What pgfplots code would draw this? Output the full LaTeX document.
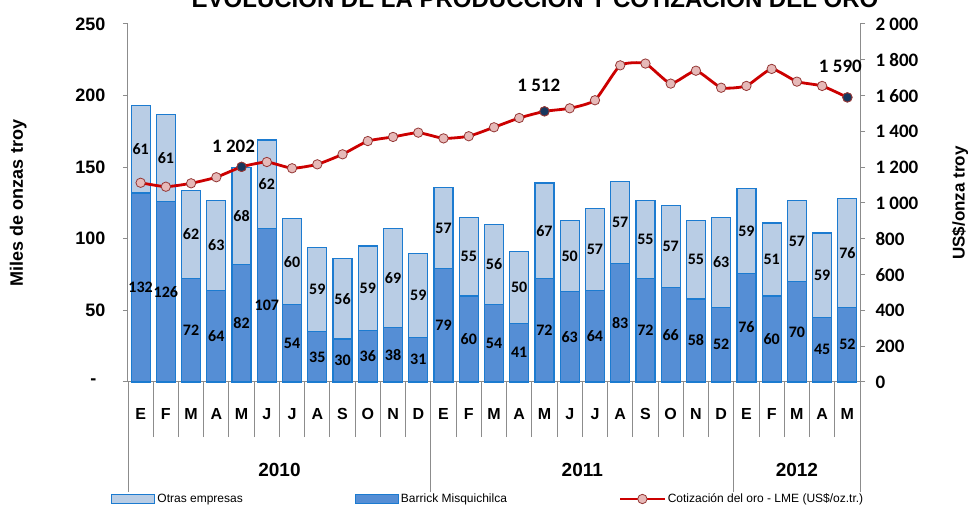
\documentclass[border=0pt]{standalone}
\usepackage{fontspec}
\setmainfont{Liberation Sans}
\newfontfamily\calib{Carlito}
\usepackage{pgfplots}
\usepackage{pgfplotstable}
\pgfplotsset{compat=1.18}
\definecolor{otras}{HTML}{B9CDE5}
\definecolor{barrick}{HTML}{558ED5}
\definecolor{barborder}{HTML}{1C7BD0}
\definecolor{axgray}{HTML}{8C8C8C}
\definecolor{goldred}{HTML}{CC0000}
\definecolor{mkfill}{HTML}{E6B9B8}
\definecolor{mkdraw}{HTML}{953735}
\definecolor{navy}{HTML}{17375E}

\pgfplotstableread{
x b o p
0 132 61 1113
1 126 61 1091
2 72 62 1110
3 64 63 1144
4 82 68 1202
5 107 62 1229
6 54 60 1194
7 35 59 1216
8 30 56 1272
9 36 59 1346
10 38 69 1369
11 31 59 1393
12 79 57 1361
13 60 55 1373
14 54 56 1423
15 41 50 1475
16 72 67 1512
17 63 50 1529
18 64 57 1574
19 83 57 1769
20 72 55 1779
21 66 57 1667
22 58 55 1739
23 52 63 1644
24 76 59 1654
25 60 51 1749
26 70 57 1678
27 45 59 1654
28 52 76 1590
}\data

\pgfplotsset{
  base/.style={scale only axis, width=732pt, height=358pt, at={(128pt,124pt)}, anchor=south west,
    xmin=-0.5, xmax=28.5, clip=false, /pgf/number format/assume math mode=true},
  goldleg/.style={legend image code/.code={\draw[mark repeat=2, mark phase=2, ##1] plot coordinates {(0pt,0pt) (22pt,0pt) (44pt,0pt)};}},
  otrasleg/.style={legend image code/.code={\draw[fill=otras, draw=barborder, line width=1.2pt] (0pt,-4.5pt) rectangle (43pt,4.5pt);}},
  barrickleg/.style={legend image code/.code={\draw[fill=barrick, draw=barborder, line width=1.2pt] (0pt,-4.5pt) rectangle (43pt,4.5pt);}},
}
\tikzset{
  dlab/.style={font=\calib\bfseries\fontsize{16}{16}\selectfont, anchor=center, text=black},
  hlab/.style={font=\calib\bfseries\fontsize{19}{19}\selectfont, anchor=center, text=black},
}

\begin{document}
\begin{tikzpicture}
% ---- bars + x axis
\begin{axis}[base, ybar stacked, bar width=19pt, ymin=0, ymax=250,
  axis x line*=bottom, axis y line=none,
  axis line style={-, draw=axgray, line width=1pt},
  tick align=outside, tick style={draw=axgray, line width=1pt},
  xtick={-0.5,0.5,...,28.5}, x tick label as interval,
  xticklabels={E,F,M,A,M,J,J,A,S,O,N,D,E,F,M,A,M,J,J,A,S,O,N,D,E,F,M,A,M},
  major tick length=55pt,
  minor xtick={-0.5,11.5,23.5,28.5}, minor tick length=110pt,
  xticklabel style={font=\bfseries\fontsize{16}{16}\selectfont, anchor=center, yshift=23pt},
]
\addplot[fill=barrick, draw=barborder, line width=1.2pt] table[x=x, y=b] {\data};
\addplot[fill=otras, draw=barborder, line width=1.2pt] table[x=x, y=o] {\data};
\node[font=\bfseries\fontsize{19}{19}\selectfont] at (axis cs:5.5,-61.5) {2010};
\node[font=\bfseries\fontsize{19}{19}\selectfont] at (axis cs:17.5,-61.5) {2011};
\node[font=\bfseries\fontsize{19}{19}\selectfont] at (axis cs:26,-61.5) {2012};
\end{axis}
% ---- left axis + data labels
\begin{axis}[base, ymin=0, ymax=250,
  axis y line*=left, axis x line=none,
  axis line style={-, draw=axgray, line width=1pt},
  tick align=outside, tick style={draw=axgray, line width=1pt}, major tick length=5pt,
  ytick={0,50,...,250}, yticklabels={-\hspace*{9pt},50,100,150,200,250},
  yticklabel style={font=\bfseries\fontsize{18}{18}\selectfont, xshift=-14pt},
  ylabel={Miles de onzas troy},
  ylabel style={font=\bfseries\fontsize{18}{18}\selectfont, at={(axis description cs:-0.150,0.5)}, anchor=center},
]
\addplot[draw=none, mark=none, nodes near coords, point meta=explicit,
  every node near coord/.append style={dlab}] table[x=x, y expr=\thisrow{b}/2, meta=b] {\data};
\addplot[draw=none, mark=none, nodes near coords, point meta=explicit,
  every node near coord/.append style={dlab}] table[x=x, y expr=\thisrow{b}+\thisrow{o}/2, meta=o] {\data};
\end{axis}
% ---- right axis + gold price
\begin{axis}[base, ymin=0, ymax=2000,
  axis y line*=right, axis x line=none,
  axis line style={-, draw=axgray, line width=1pt},
  tick align=outside, tick style={draw=axgray, line width=1pt}, major tick length=5pt,
  ytick={0,200,...,2000}, yticklabels={0,200,400,600,800,1 000,1 200,1 400,1 600,1 800,2 000},
  yticklabel style={font=\calib\bfseries\fontsize{19}{19}\selectfont, xshift=7pt},
  ylabel={US\$/onza troy},
  ylabel style={font=\bfseries\fontsize{17}{17}\selectfont, at={(axis description cs:1.1366,0.5)}, anchor=center, rotate=0},
  legend style={at={(axis description cs:-0.0232,-0.3268)}, anchor=west, draw=none, fill=none,
    legend columns=3, font=\fontsize{12}{12}\selectfont, inner sep=0pt,
    /tikz/every even column/.append style={column sep=110pt}},
  legend cell align=left,
]
\addlegendimage{otrasleg}
\addlegendentry{Otras empresas}
\addlegendimage{barrickleg}
\addlegendentry{Barrick Misquichilca}
\addplot[goldred, line width=2.8pt, smooth, tension=0.3, mark=*, mark size=4.7pt,
  mark options={fill=mkfill, draw=mkdraw, line width=0.8pt, solid}, goldleg]
  table[x=x, y=p] {\data};
\addlegendentry{Cotización del oro - LME (US\$/oz.tr.)}
\addplot[forget plot, only marks, mark=*, mark size=4.7pt, mark options={fill=navy, draw=mkdraw, line width=0.8pt},
  nodes near coords, point meta=explicit symbolic,
  every node near coord/.append style={hlab, xshift=-8pt, yshift=20.7pt}] coordinates {(4,1202) [1 202]};
\addplot[forget plot, only marks, mark=*, mark size=4.7pt, mark options={fill=navy, draw=mkdraw, line width=0.8pt},
  nodes near coords, point meta=explicit symbolic,
  every node near coord/.append style={hlab, xshift=-5.7pt, yshift=26.4pt}] coordinates {(16,1512) [1 512]};
\addplot[forget plot, only marks, mark=*, mark size=4.7pt, mark options={fill=navy, draw=mkdraw, line width=0.8pt},
  nodes near coords, point meta=explicit symbolic,
  every node near coord/.append style={hlab, xshift=-7pt, yshift=30.6pt}] coordinates {(28,1590) [1 590]};
\end{axis}
\node[anchor=base, font=\bfseries\fontsize{24}{24}\selectfont] at (535pt,498pt) {EVOLUCIÓN DE LA PRODUCCIÓN Y COTIZACIÓN DEL ORO};
\pgfresetboundingbox
\useasboundingbox (0pt,0pt) rectangle (970pt,506pt);
\end{tikzpicture}
\end{document}
